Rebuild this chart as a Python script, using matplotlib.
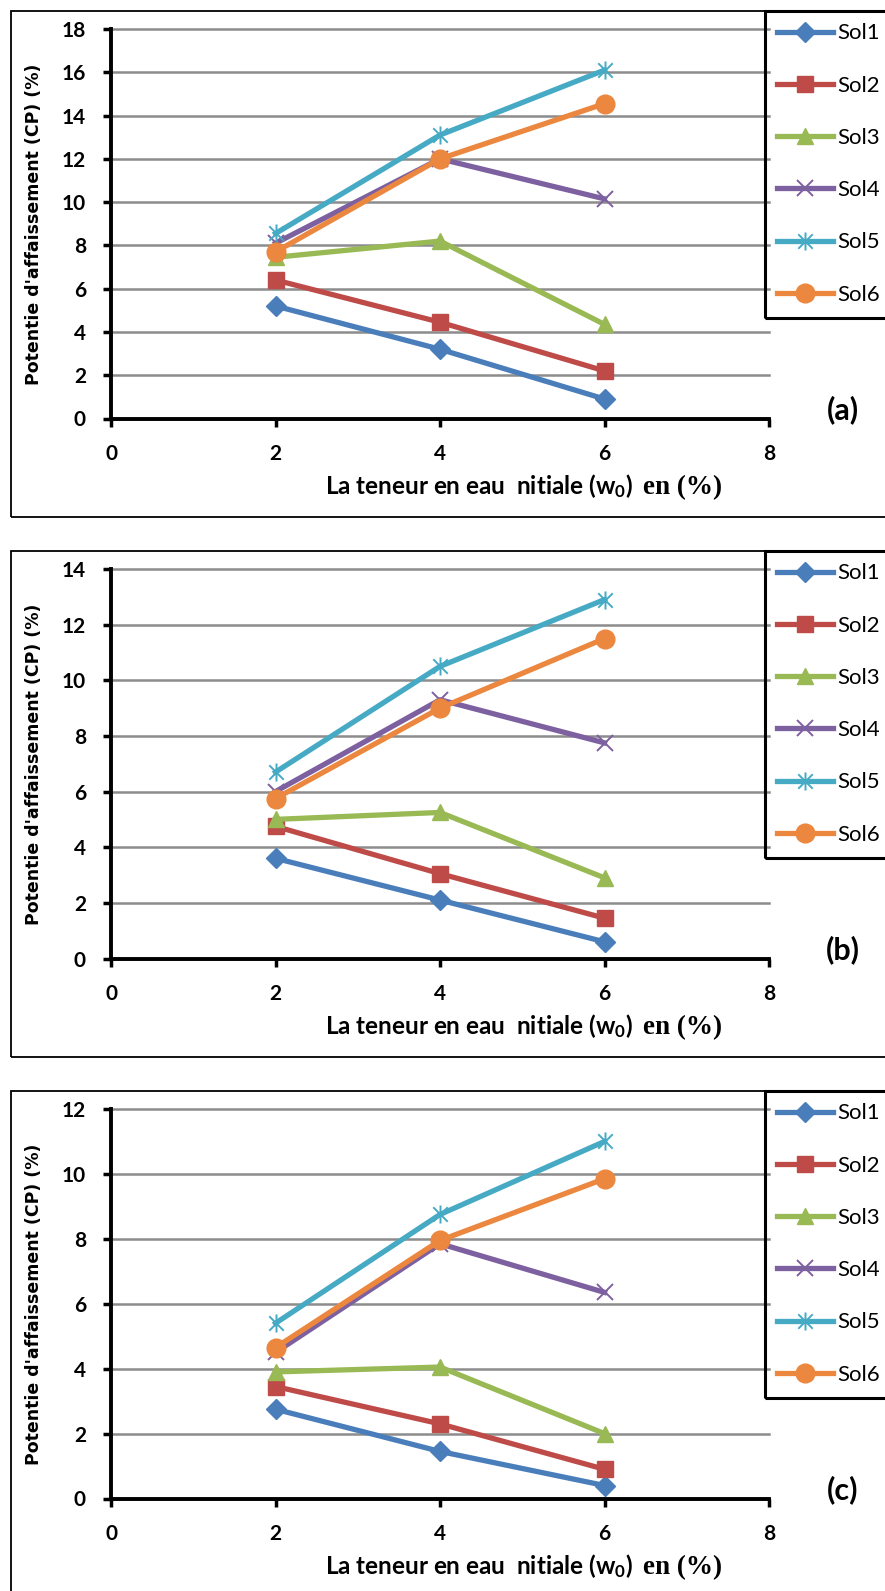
import matplotlib
matplotlib.use("Agg")
import matplotlib.pyplot as plt
from matplotlib.path import Path
from matplotlib.patches import Rectangle
from matplotlib.font_manager import FontProperties

# ---------------- data ----------------
w0 = [2, 4, 6]
series_names = ["Sol1", "Sol2", "Sol3", "Sol4", "Sol5", "Sol6"]
x_ticks = [0, 2, 4, 6, 8]

# panel (a)
a_sol1 = [5.2, 3.2, 0.9]
a_sol2 = [6.4, 4.45, 2.2]
a_sol3 = [7.45, 8.2, 4.35]
a_sol4 = [8.1, 12.0, 10.15]
a_sol5 = [8.55, 13.1, 16.1]
a_sol6 = [7.7, 12.0, 14.55]
a_yticks = [0, 2, 4, 6, 8, 10, 12, 14, 16, 18]

# panel (b)
b_sol1 = [3.6, 2.1, 0.6]
b_sol2 = [4.75, 3.05, 1.45]
b_sol3 = [5.0, 5.25, 2.9]
b_sol4 = [6.0, 9.3, 7.75]
b_sol5 = [6.7, 10.5, 12.9]
b_sol6 = [5.75, 9.0, 11.5]
b_yticks = [0, 2, 4, 6, 8, 10, 12, 14]

# panel (c)
c_sol1 = [2.75, 1.45, 0.4]
c_sol2 = [3.45, 2.3, 0.9]
c_sol3 = [3.9, 4.05, 2.0]
c_sol4 = [4.5, 7.85, 6.35]
c_sol5 = [5.4, 8.75, 11.0]
c_sol6 = [4.65, 7.95, 9.85]
c_yticks = [0, 2, 4, 6, 8, 10, 12]

panel_tags = ["(a)", "(b)", "(c)"]
ylabel_text = "Potentie d'affaissement (CP) (%)"
xlabel_part1 = r"La teneur en eau  nitiale (w$_{\mathsf{0}}$)"
xlabel_part2 = "en (%)"

# ---------------- style ----------------
plt.rcParams["mathtext.fontset"] = "custom"
plt.rcParams["mathtext.rm"] = "Lato:bold"
plt.rcParams["mathtext.sf"] = "Lato:bold"
plt.rcParams["mathtext.it"] = "Lato:bold"

colors = ["#4A7EBB", "#BE4B48", "#98B954", "#7D60A0", "#46AAC5", "#EB873E"]
ast = Path([(0, -1), (0, 1), (-0.8, -0.8), (0.8, 0.8), (-0.8, 0.8), (0.8, -0.8)],
           [Path.MOVETO, Path.LINETO, Path.MOVETO, Path.LINETO, Path.MOVETO, Path.LINETO])
markers = ["D", "s", "^", "x", ast, "o"]
msizes = [10.5, 11.5, 12, 12, 13, 13.5]
mews = [1, 1, 1, 1.4, 1.4, 1]

tick_font = FontProperties(family="Lato", weight="bold", size=15)
leg_font = FontProperties(family="Lato", size=16)
xl_font = FontProperties(family="Lato", weight="bold", size=17.5)
xl2_font = FontProperties(family="Liberation Serif", weight="bold", size=19.5)
yl_font = FontProperties(family="DejaVu Sans", weight="bold", size=12.5)
tag_font = FontProperties(family="Lato", weight="bold", size=22)

W, H = 885, 1591
fig = plt.figure(figsize=(W / 100, H / 100), dpi=100)


def fx(px):
    return px / W


def fy(py):
    return 1 - py / H


panels = [
    ([a_sol1, a_sol2, a_sol3, a_sol4, a_sol5, a_sol6], a_yticks),
    ([b_sol1, b_sol2, b_sol3, b_sol4, b_sol5, b_sol6], b_yticks),
    ([c_sol1, c_sol2, c_sol3, c_sol4, c_sol5, c_sol6], c_yticks),
]

for i, (data, yt) in enumerate(panels):
    off = 540 * i
    top_px, bot_px = 29 + off, 418.5 + off
    left_px, right_px = 111, 769
    ax = fig.add_axes([fx(left_px), fy(bot_px), fx(right_px - left_px), (bot_px - top_px) / H])

    # outer panel frame and legend frame
    fig.add_artist(Rectangle((fx(11), fy(517 + off)), 1.2, (506) / H,
                             transform=fig.transFigure, fill=False, lw=1.3, ec="black"))
    fig.add_artist(Rectangle((fx(765), fy(318 + off)), 0.5, (307) / H,
                             transform=fig.transFigure, fill=False, lw=2.2, ec="black", zorder=5))

    handles = []
    for k, vals in enumerate(data):
        ln, = ax.plot(w0, vals, color=colors[k], lw=3.8, marker=markers[k], ms=msizes[k],
                      mfc=colors[k], mec=colors[k], mew=mews[k], label=series_names[k],
                      clip_on=False, zorder=3 + k * 0.1)
        handles.append(ln)

    ax.set_xlim(0, 8)
    ax.set_ylim(yt[0], yt[-1])
    ax.set_xticks(x_ticks)
    ax.set_yticks(yt)
    ax.set_xticklabels([str(v) for v in x_ticks], fontproperties=tick_font)
    ax.set_yticklabels([str(v) for v in yt], fontproperties=tick_font)
    ax.tick_params(axis="both", direction="out", length=6, width=2.5, pad=12, colors="black")

    ax.yaxis.grid(True, color="#8C8C8C", lw=1.8)
    for gl in ax.get_ygridlines():
        gl.set_clip_on(False)
    ax.set_axisbelow(True)

    for s in ["top", "right"]:
        ax.spines[s].set_visible(False)
    for s in ["left", "bottom"]:
        ax.spines[s].set_linewidth(2.8)
        ax.spines[s].set_zorder(4)
    ax.patch.set_visible(False)

    # axis titles
    fig.text(fx(34), fy(224 + off), ylabel_text, fontproperties=yl_font, rotation=90,
             ha="center", va="center")
    fig.text(fx(633), fy(494 + off), xlabel_part1, fontproperties=xl_font, ha="right", va="baseline")
    fig.text(fx(643), fy(494 + off), xlabel_part2, fontproperties=xl2_font, ha="left", va="baseline")

    ax.legend(handles=handles, loc="center left", bbox_to_anchor=(fx(777), fy(164 + off)),
              bbox_transform=fig.transFigure, frameon=False, prop=leg_font,
              handlelength=2.5, handletextpad=0.2, labelspacing=1.45, borderpad=0, borderaxespad=0)

    fig.text(fx(843), fy(410 + off), panel_tags[i], fontproperties=tag_font, ha="center", va="center")

fig.savefig("out.png", dpi=100)
